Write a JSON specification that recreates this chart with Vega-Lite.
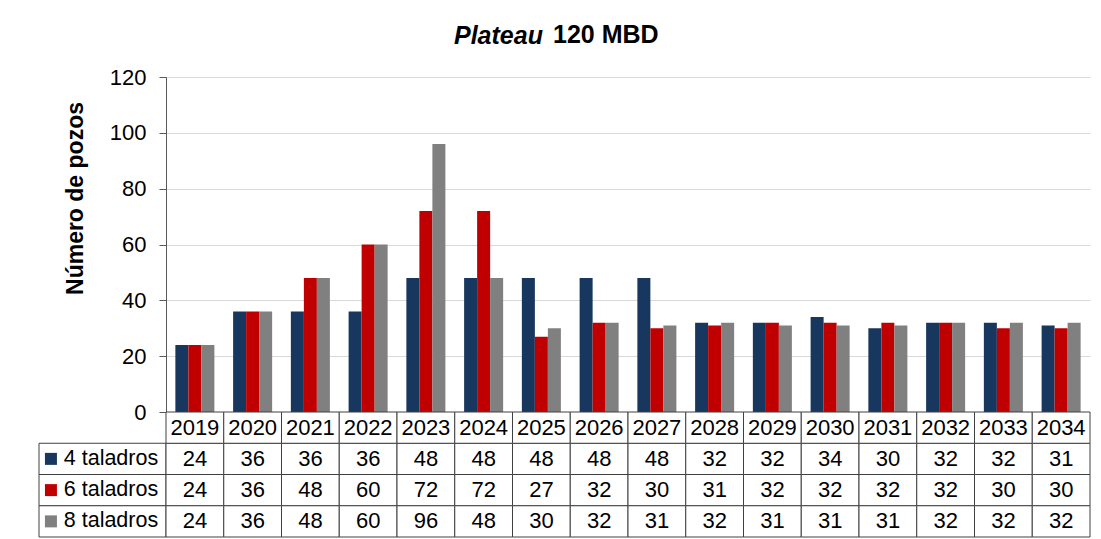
{
  "$schema": "https://vega.github.io/schema/vega-lite/v6.json",
  "background": "white",
  "padding": {"left": 38, "top": 23, "right": 10, "bottom": 0},
  "config": {
    "view": {"stroke": null},
    "font": "Liberation Sans",
    "text": {"font": "Liberation Sans", "fontSize": 22, "color": "black"}
  },
  "datasets": {
    "pozos": [
      {"year": "2019", "series": "4 taladros", "value": 24},
      {"year": "2020", "series": "4 taladros", "value": 36},
      {"year": "2021", "series": "4 taladros", "value": 36},
      {"year": "2022", "series": "4 taladros", "value": 36},
      {"year": "2023", "series": "4 taladros", "value": 48},
      {"year": "2024", "series": "4 taladros", "value": 48},
      {"year": "2025", "series": "4 taladros", "value": 48},
      {"year": "2026", "series": "4 taladros", "value": 48},
      {"year": "2027", "series": "4 taladros", "value": 48},
      {"year": "2028", "series": "4 taladros", "value": 32},
      {"year": "2029", "series": "4 taladros", "value": 32},
      {"year": "2030", "series": "4 taladros", "value": 34},
      {"year": "2031", "series": "4 taladros", "value": 30},
      {"year": "2032", "series": "4 taladros", "value": 32},
      {"year": "2033", "series": "4 taladros", "value": 32},
      {"year": "2034", "series": "4 taladros", "value": 31},
      {"year": "2019", "series": "6 taladros", "value": 24},
      {"year": "2020", "series": "6 taladros", "value": 36},
      {"year": "2021", "series": "6 taladros", "value": 48},
      {"year": "2022", "series": "6 taladros", "value": 60},
      {"year": "2023", "series": "6 taladros", "value": 72},
      {"year": "2024", "series": "6 taladros", "value": 72},
      {"year": "2025", "series": "6 taladros", "value": 27},
      {"year": "2026", "series": "6 taladros", "value": 32},
      {"year": "2027", "series": "6 taladros", "value": 30},
      {"year": "2028", "series": "6 taladros", "value": 31},
      {"year": "2029", "series": "6 taladros", "value": 32},
      {"year": "2030", "series": "6 taladros", "value": 32},
      {"year": "2031", "series": "6 taladros", "value": 32},
      {"year": "2032", "series": "6 taladros", "value": 32},
      {"year": "2033", "series": "6 taladros", "value": 30},
      {"year": "2034", "series": "6 taladros", "value": 30},
      {"year": "2019", "series": "8 taladros", "value": 24},
      {"year": "2020", "series": "8 taladros", "value": 36},
      {"year": "2021", "series": "8 taladros", "value": 48},
      {"year": "2022", "series": "8 taladros", "value": 60},
      {"year": "2023", "series": "8 taladros", "value": 96},
      {"year": "2024", "series": "8 taladros", "value": 48},
      {"year": "2025", "series": "8 taladros", "value": 30},
      {"year": "2026", "series": "8 taladros", "value": 32},
      {"year": "2027", "series": "8 taladros", "value": 31},
      {"year": "2028", "series": "8 taladros", "value": 32},
      {"year": "2029", "series": "8 taladros", "value": 31},
      {"year": "2030", "series": "8 taladros", "value": 31},
      {"year": "2031", "series": "8 taladros", "value": 31},
      {"year": "2032", "series": "8 taladros", "value": 32},
      {"year": "2033", "series": "8 taladros", "value": 32},
      {"year": "2034", "series": "8 taladros", "value": 32}
    ]
  },
  "columns": 2,
  "spacing": 0,
  "bounds": "flush",
  "concat": [
    {
      "width": 127,
      "height": 335,
      "data": {"name": "pozos"},
      "transform": [{"filter": "datum.year == '2019' && datum.series == '4 taladros'"}],
      "title": {"text": "Plateau", "fontSize": 25, "fontWeight": "bold", "fontStyle": "italic", "color": "black", "anchor": "start", "frame": "group", "dx": 415, "offset": 28},
      "mark": {"type": "text", "text": ""},
      "encoding": {}
    },
    {
      "width": 924,
      "height": 335,
      "data": {"name": "pozos"},
      "title": {"text": "120 MBD", "fontSize": 25, "fontWeight": "bold", "color": "black", "anchor": "start", "frame": "group", "dx": 387, "offset": 18},
      "mark": {"type": "bar"},
      "encoding": {
        "x": {"field": "year", "type": "ordinal", "scale": {"paddingInner": 0, "paddingOuter": 0}, "axis": null},
        "xOffset": {"field": "series", "scale": {"paddingInner": 0, "paddingOuter": 0.72}},
        "y": {
          "field": "value",
          "type": "quantitative",
          "scale": {"domain": [0, 120], "nice": false},
          "axis": {
            "values": [0, 20, 40, 60, 80, 100, 120],
            "title": "Número de pozos",
            "titleFontSize": 23,
            "titleFontWeight": "bold",
            "titleColor": "black",
            "titleAngle": -90,
            "titleBaseline": "alphabetic",
            "titleAlign": "center",
            "titleX": -84,
            "titleY": 121,
            "labelFontSize": 22,
            "labelColor": "black",
            "labelPadding": 13,
            "tickSize": 7,
            "tickColor": "#595959",
            "domainColor": "#595959",
            "gridColor": "#D9D9D9"
          }
        },
        "color": {
          "field": "series",
          "scale": {"domain": ["4 taladros", "6 taladros", "8 taladros"], "range": ["#17375E", "#C00000", "#808080"]},
          "legend": null
        }
      }
    },
    {
      "width": 127,
      "height": 125,
      "data": {"name": "pozos"},
      "transform": [{"filter": "datum.year == '2019'"}],
      "encoding": {
        "y": {"field": "series", "type": "nominal", "scale": {"domain": ["hdr", "4 taladros", "6 taladros", "8 taladros"], "paddingInner": 0, "paddingOuter": 0}, "axis": null}
      },
      "layer": [
        {
          "mark": {"type": "rect", "fill": "white", "stroke": "#404040", "strokeWidth": 1},
          "encoding": {
            "x": {"datum": 0, "type": "quantitative", "scale": {"domain": [0, 1], "nice": false}, "axis": null},
            "x2": {"datum": 1}
          }
        },
        {
          "mark": {"type": "point", "shape": "square", "size": 144, "filled": true, "opacity": 1},
          "encoding": {
            "x": {"datum": 0.094, "type": "quantitative"},
            "color": {"field": "series", "scale": {"domain": ["4 taladros", "6 taladros", "8 taladros"], "range": ["#17375E", "#C00000", "#808080"]}, "legend": null}
          }
        },
        {
          "mark": {"type": "text", "align": "left", "baseline": "middle", "fontSize": 21.5},
          "encoding": {
            "x": {"datum": 0.195, "type": "quantitative"},
            "text": {"field": "series"}
          }
        }
      ]
    },
    {
      "width": 924,
      "height": 125,
      "data": {"name": "pozos"},
      "encoding": {
        "x": {"field": "year", "type": "ordinal", "scale": {"paddingInner": 0, "paddingOuter": 0}, "axis": null}
      },
      "layer": [
        {
          "mark": {"type": "rect", "fill": "white", "stroke": "#404040", "strokeWidth": 1},
          "encoding": {
            "y": {"field": "series", "type": "nominal", "scale": {"domain": ["hdr", "4 taladros", "6 taladros", "8 taladros"], "paddingInner": 0, "paddingOuter": 0}, "axis": null}
          }
        },
        {
          "transform": [{"filter": "datum.series == '4 taladros'"}],
          "mark": {"type": "rect", "fill": "white", "stroke": "#404040", "strokeWidth": 1},
          "encoding": {
            "y": {"datum": "hdr", "type": "nominal"}
          }
        },
        {
          "mark": {"type": "text", "align": "center", "baseline": "middle"},
          "encoding": {
            "y": {"field": "series", "type": "nominal"},
            "text": {"field": "value", "type": "quantitative"}
          }
        },
        {
          "transform": [{"filter": "datum.series == '4 taladros'"}],
          "mark": {"type": "text", "align": "center", "baseline": "middle"},
          "encoding": {
            "y": {"datum": "hdr", "type": "nominal"},
            "text": {"field": "year"}
          }
        }
      ]
    }
  ]
}
